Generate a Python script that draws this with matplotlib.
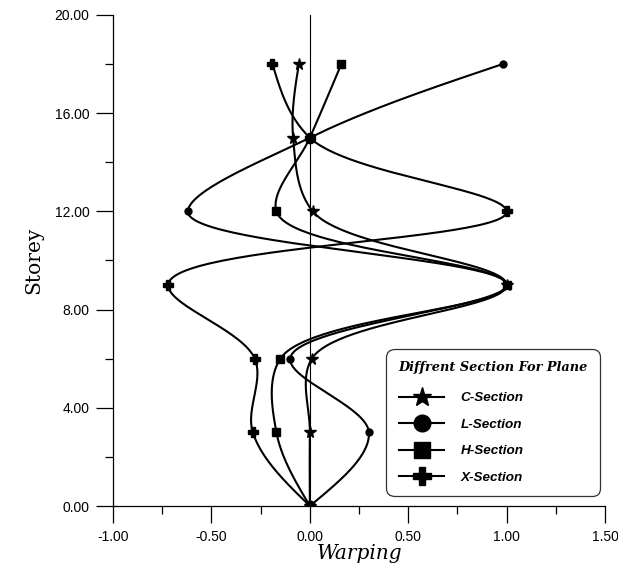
import numpy as np
import matplotlib
matplotlib.use("Agg")
import matplotlib.pyplot as plt
from matplotlib.lines import Line2D

storey = [0, 3, 6, 9, 12, 15, 18]
c_section = [0.0, 0.0, 0.01, 1.0, 0.015, -0.085, -0.056]
l_section = [0.0, 0.30, -0.10, 1.0, -0.62, 0.0, 0.98]
h_section = [0.0, -0.17, -0.15, 1.0, -0.17, 0.0, 0.16]
x_section = [0.0, -0.29, -0.28, -0.72, 1.0, 0.0, -0.19]

series_names = ["C-Section", "L-Section", "H-Section", "X-Section"]
x_ticks = [-1.0, -0.5, 0.0, 0.5, 1.0, 1.5]
y_ticks = [0, 4, 8, 12, 16, 20]


def catmull_rom(pts, alpha=0.6, n=60):
    """Non-uniform Catmull-Rom curve through pts (display coords)."""
    p = np.asarray(pts, float)
    k = len(p)
    d = np.linalg.norm(np.diff(p, axis=0), axis=1)
    dt = np.maximum(d, 1e-9) ** alpha
    m = np.zeros_like(p)
    for i in range(1, k - 1):
        a, b = dt[i - 1], dt[i]
        m[i] = (p[i] - p[i - 1]) / a * b / (a + b) + (p[i + 1] - p[i]) / b * a / (a + b)
    # natural end conditions
    m[0] = (3 * (p[1] - p[0]) / dt[0] - m[1]) / 2
    m[-1] = (3 * (p[-1] - p[-2]) / dt[-1] - m[-2]) / 2
    s = np.linspace(0, 1, n)[:, None]
    h00 = 2 * s**3 - 3 * s**2 + 1
    h10 = s**3 - 2 * s**2 + s
    h01 = -2 * s**3 + 3 * s**2
    h11 = s**3 - s**2
    out = []
    for i in range(k - 1):
        seg = h00 * p[i] + h10 * dt[i] * m[i] + h01 * p[i + 1] + h11 * dt[i] * m[i + 1]
        out.append(seg if i == 0 else seg[1:])
    return np.vstack(out)


fig = plt.figure(figsize=(6.18, 5.75), dpi=100)
ax = fig.add_axes([0.183, 0.12, 0.796, 0.854])
ax.set_xlim(-1.0, 1.5)
ax.set_ylim(0, 20)

ax.axvline(0, color="black", lw=0.8, zorder=1)

markers = {"C-Section": ("*", 8.5), "L-Section": ("o", 5),
           "H-Section": ("s", 5.5), "X-Section": ("P", 7.5)}
data = {"C-Section": c_section, "L-Section": l_section,
        "H-Section": h_section, "X-Section": x_section}

to_disp = ax.transData
to_data = ax.transData.inverted()
for name in series_names:
    vals = data[name]
    disp = to_disp.transform(np.column_stack([vals, storey]))
    curve = to_data.transform(catmull_rom(disp))
    ax.plot(curve[:, 0], curve[:, 1], color="black", lw=1.5, zorder=2)
    mk, ms = markers[name]
    ax.plot(vals, storey, ls="none", marker=mk, ms=ms, color="black", zorder=3)

ax.set_xticks(x_ticks)
ax.set_xticklabels([f"{v:.2f}" for v in x_ticks])
ax.set_xticks(np.arange(-1.0, 1.51, 0.25), minor=True)
ax.set_yticks(y_ticks)
ax.set_yticklabels([f"{v:.2f}" for v in y_ticks])
ax.set_yticks(np.arange(0, 21, 2), minor=True)
ax.tick_params(which="major", direction="out", length=12, width=0.9,
               labelsize=10, pad=5)
ax.tick_params(which="minor", direction="out", length=6, width=0.9)
for lab in ax.get_xticklabels() + ax.get_yticklabels():
    lab.set_fontfamily("Liberation Sans")

for s in ["top", "right"]:
    ax.spines[s].set_visible(False)
for s in ["left", "bottom"]:
    ax.spines[s].set_linewidth(0.9)

ax.set_xlabel("Warping", fontsize=14.5, family="DejaVu Serif", style="italic", labelpad=0)
ax.set_ylabel("Storey", fontsize=14.5, family="DejaVu Serif", labelpad=8)

legend_ms = {"C-Section": 14, "L-Section": 12, "H-Section": 11.5, "X-Section": 12.5}
handles = [Line2D([0], [0], color="black", lw=1.5, marker=markers[n][0],
                  ms=legend_ms[n]) for n in series_names]
leg = ax.legend(handles, series_names, loc="lower right",
                bbox_to_anchor=(0.99, 0.02), frameon=True, fancybox=True,
                title="Diffrent Section For Plane", handlelength=3.4,
                labelspacing=1.05, borderpad=0.9, handletextpad=1.2,
                borderaxespad=0, alignment="left",
                prop={"family": "Liberation Sans", "weight": "bold",
                      "style": "italic", "size": 9.7})
leg.get_title().set_fontfamily("DejaVu Serif")
leg.get_title().set_fontweight("bold")
leg.get_title().set_fontstyle("italic")
leg.get_title().set_fontsize(9.3)
leg._legend_box.sep = 13
frame = leg.get_frame()
frame.set_edgecolor("black")
frame.set_linewidth(0.9)
frame.set_boxstyle("round,pad=0,rounding_size=0.6")

fig.savefig("out.png", dpi=100)
